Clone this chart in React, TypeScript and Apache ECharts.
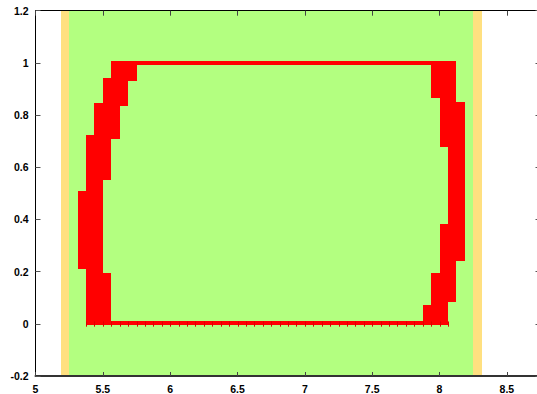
import React, { useEffect, useRef } from "react";
import * as echarts from "echarts";

// ---- data ----
const xTicks = [5, 5.5, 6, 6.5, 7, 7.5, 8, 8.5];
const yTicks = [-0.2, 0, 0.2, 0.4, 0.6, 0.8, 1, 1.2];

const binWidth = 0.0625;

// background bands [from, to]
const yellowBand = [5.1875, 8.3125];
const greenBand = [5.25, 8.25];

// red column blocks: bin start, low, high
const colStart = [5.3125, 5.375, 5.4375, 5.5, 5.5, 5.5625, 5.625, 5.6875, 7.875, 7.9375, 7.9375, 8.0, 8.0, 8.0625, 8.125];
const colLow = [0.211, -0.004, -0.004, -0.004, 0.552, 0.708, 0.835, 0.93, -0.004, -0.004, 0.866, -0.004, 0.679, 0.085, 0.242];
const colHigh = [0.508, 0.725, 0.848, 0.195, 0.943, 1.006, 1.006, 1.006, 0.071, 0.195, 1.006, 0.382, 1.006, 1.006, 0.85];

// thin bars along the top and the bottom: from, to, low, high
const topBar = [5.75, 7.9375, 0.991, 1.006];
const bottomBar = [5.375, 8.0625, -0.003, 0.009];

export default function App() {
  const ref = useRef<HTMLDivElement>(null);

  useEffect(() => {
    if (!ref.current) return;
    const chart = echarts.init(ref.current, undefined, { renderer: "svg" });

    const rects: number[][] = [];
    colStart.forEach((s, i) => rects.push([s, s + binWidth, colLow[i], colHigh[i]]));
    rects.push(topBar.slice());
    rects.push(bottomBar.slice());

    const edges: number[][] = [];
    for (let e = bottomBar[0]; e <= bottomBar[1] + 1e-9; e += binWidth) edges.push([e]);

    const rectItem = (color: string) => (params: any, api: any) => {
      const p0 = api.coord([api.value(0), api.value(3)]);
      const p1 = api.coord([api.value(1), api.value(2)]);
      const x0 = Math.round(p0[0]);
      const x1 = Math.round(p1[0]);
      const y0 = Math.round(p0[1]);
      const y1 = Math.round(p1[1]);
      return {
        type: "rect",
        shape: { x: x0, y: y0, width: x1 - x0, height: Math.max(1, y1 - y0) },
        style: { fill: color, stroke: null },
      };
    };

    const labelStyle = {
      fontFamily: "Liberation Sans, Arial, sans-serif",
      fontWeight: "bold" as const,
      fontSize: 10.5,
      color: "#000",
    };
    const fmt = (v: number) => String(Math.round(v * 10) / 10);

    chart.setOption({
      animation: false,
      grid: { left: 35.5, top: 10.7, width: 505, height: 368.2, containLabel: false },
      xAxis: [
        {
          type: "value",
          position: "bottom",
          min: 5,
          max: 8.75,
          interval: 0.5,
          z: 10,
          axisLine: { show: true, onZero: false, lineStyle: { color: "#333", width: 2 } },
          axisTick: { show: true, inside: true, length: 4, lineStyle: { color: "#444", width: 1 } },
          axisLabel: { ...labelStyle, margin: 7, formatter: fmt, showMaxLabel: false },
          splitLine: { show: false },
        },
        {
          type: "value",
          position: "top",
          min: 5,
          max: 8.75,
          interval: 0.5,
          z: 10,
          axisLine: { show: true, onZero: false, lineStyle: { color: "#000", width: 1 } },
          axisTick: { show: true, inside: true, length: 5, lineStyle: { color: "#444", width: 1 } },
          axisLabel: { show: false },
          splitLine: { show: false },
        },
      ],
      yAxis: [
        {
          type: "value",
          position: "left",
          min: -0.2,
          max: 1.2,
          interval: 0.2,
          z: 10,
          axisLine: { show: true, onZero: false, lineStyle: { color: "#000", width: 1 } },
          axisTick: { show: true, inside: true, length: 5, lineStyle: { color: "#555", width: 1 } },
          axisLabel: { ...labelStyle, margin: 7, formatter: fmt },
          splitLine: { show: false },
        },
        {
          type: "value",
          position: "right",
          min: -0.2,
          max: 1.2,
          interval: 0.2,
          z: 10,
          axisLine: { show: true, onZero: false, lineStyle: { color: "#000", width: 1 } },
          axisTick: { show: true, inside: true, length: 5, lineStyle: { color: "#555", width: 1 } },
          axisLabel: { show: false },
          splitLine: { show: false },
        },
      ],
      series: [
        {
          type: "custom",
          xAxisIndex: 0,
          yAxisIndex: 0,
          z: 1,
          silent: true,
          data: [[yellowBand[0], yellowBand[1], -0.2, 1.2]],
          renderItem: rectItem("#ffe080"),
        },
        {
          type: "custom",
          xAxisIndex: 0,
          yAxisIndex: 0,
          z: 2,
          silent: true,
          data: [[greenBand[0], greenBand[1], -0.2, 1.2]],
          renderItem: rectItem("#b3ff80"),
        },
        {
          type: "custom",
          xAxisIndex: 0,
          yAxisIndex: 0,
          z: 3,
          silent: true,
          data: rects,
          renderItem: rectItem("#ff0000"),
        },
        {
          type: "custom",
          xAxisIndex: 0,
          yAxisIndex: 0,
          z: 4,
          silent: true,
          data: edges,
          renderItem: (params: any, api: any) => {
            const a = api.coord([api.value(0), bottomBar[3]]);
            const b = api.coord([api.value(0), -0.011]);
            const x = Math.round(a[0]) + 0.5;
            return {
              type: "line",
              shape: { x1: x, y1: a[1], x2: x, y2: b[1] },
              style: { stroke: "#dd0000", lineWidth: 1 },
            };
          },
        },
      ],
    });

    return () => chart.dispose();
  }, []);

  return (
    <div style={{ position: "absolute", left: 0, top: 0, width: 537, height: 394, overflow: "hidden", background: "#fff" }}>
      <div ref={ref} style={{ width: 548, height: 394 }} />
    </div>
  );
}
